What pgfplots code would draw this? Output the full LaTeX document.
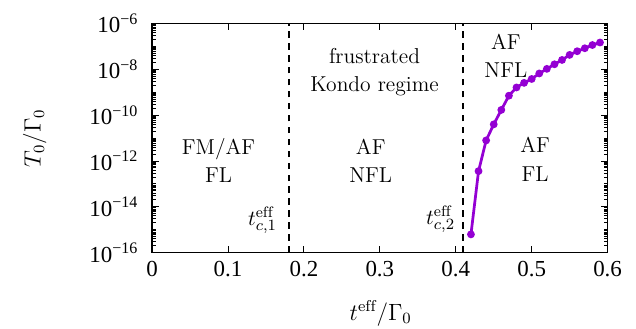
\documentclass[border=0pt]{standalone}
\usepackage{fontspec}
\usepackage{pgfplots}
\pgfplotsset{compat=1.18}
\newfontfamily\tnr{Liberation Serif}
\definecolor{curve}{HTML}{9400D3}
\begin{document}
\def\myminor{1e-16}
\foreach \e in {-16,...,-7}{\foreach \m in {2,...,10}{\xdef\myminor{\myminor,\m e\e}}}
\begin{tikzpicture}[font=\fontsize{11}{14.5}\selectfont]
\begin{axis}[
  scale only axis, width=232.5pt, height=117pt,
  xmin=0, xmax=0.6, ymode=log, ymin=1e-16, ymax=1e-6,
  xtick={0,0.1,0.2,0.3,0.4,0.5,0.6},
  xticklabels={0,0.1,0.2,0.3,0.4,0.5,0.6},
  ytick={1e-16,1e-14,1e-12,1e-10,1e-8,1e-6},
  yticklabels={10\textsuperscript{−16},10\textsuperscript{−14},10\textsuperscript{−12},10\textsuperscript{−10},10\textsuperscript{−8},10\textsuperscript{−6}},
  minor ytick/.expanded=\myminor,
  tick align=inside, major tick length=3.5pt, minor tick length=2pt,
  axis line style={line width=0.8pt},
  every tick/.style={black, line width=0.5pt},
  tick label style={font=\tnr\fontsize{11.7}{14}\selectfont},
  yticklabel style={xshift=-3.5pt},
  xticklabel style={yshift=-1pt},
  xlabel={$t^{\mathrm{eff}}/\Gamma_0$}, ylabel={$T_0/\Gamma_0$},
  xlabel style={at={(axis description cs:0.502,-0.265)}, anchor=center},
  ylabel style={at={(axis description cs:-0.258,0.5)}, anchor=center},
  label style={font=\fontsize{12}{14}\selectfont},
  clip=false,
]
\coordinate (ll) at (rel axis cs:0,0);
\addplot[curve, line width=1.4pt, mark=*, mark size=1.25pt] coordinates {
(0.42,6.31e-16) (0.43,3.63e-13) (0.44,7.94e-12) (0.45,3.98e-11) (0.46,1.70e-10)
(0.47,7.08e-10) (0.48,1.62e-9) (0.49,2.57e-9) (0.50,3.80e-9) (0.51,6.61e-9)
(0.52,1.05e-8) (0.53,1.66e-8) (0.54,2.57e-8) (0.55,4.27e-8) (0.56,6.17e-8)
(0.57,8.32e-8) (0.58,1.15e-7) (0.59,1.48e-7)
};
\addplot[black, line width=0.9pt, dash pattern=on 3.3pt off 2.8pt] coordinates {(0.18,1e-16) (0.18,1e-6)};
\addplot[black, line width=0.9pt, dash pattern=on 3.3pt off 2.8pt] coordinates {(0.41,1e-16) (0.41,1e-6)};
\node[align=center] at (axis cs:0.0875,1.05e-12) {FM/AF\\FL};
\node[align=center] at (axis cs:0.288,1.05e-12) {AF\\NFL};
\node[align=center] at (axis cs:0.293,7.5e-9) {frustrated\\Kondo regime};
\node[align=center] at (axis cs:0.466,4e-8) {AF\\NFL};
\node[align=center] at (axis cs:0.5045,1.2e-12) {AF\\FL};
\node[anchor=east, inner sep=0pt] at (axis cs:0.165,2.6e-15) {$t^{\mathrm{eff}}_{c,1}$};
\node[anchor=east, inner sep=0pt] at (axis cs:0.3996,2.9e-15) {$t^{\mathrm{eff}}_{c,2}$};
\end{axis}
\pgfresetboundingbox
\path[use as bounding box] (ll) ++(-71pt,-38.5pt) rectangle ++(318pt,167.5pt);
\end{tikzpicture}
\end{document}
